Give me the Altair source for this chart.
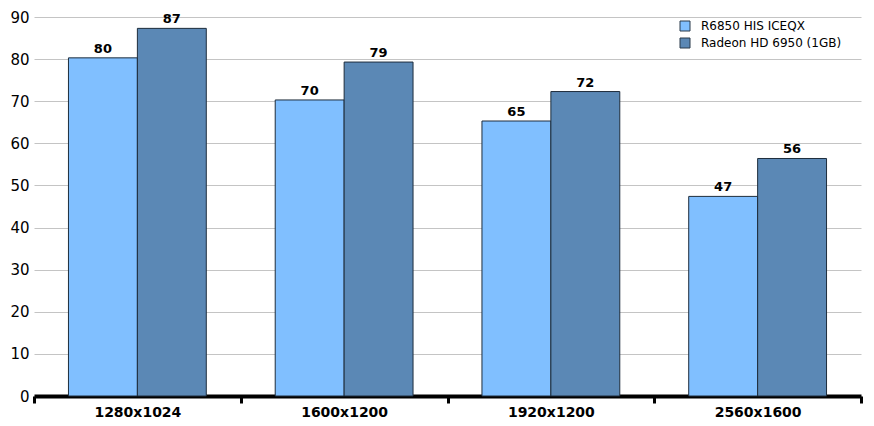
import altair as alt
import pandas as pd

categories = ["1280x1024", "1600x1200", "1920x1200", "2560x1600"]
series = ["R6850 HIS ICEQX", "Radeon HD 6950 (1GB)"]
r6850 = [80.3, 70.3, 65.3, 47.4]
hd6950 = [87.3, 79.3, 72.3, 56.4]
colors = ["#80BFFF", "#5B88B5"]

rows = []
for i, c in enumerate(categories):
    rows.append({"category": c, "series": series[0], "value": r6850[i]})
    rows.append({"category": c, "series": series[1], "value": hd6950[i]})
df = pd.DataFrame(rows)

FONT = "DejaVu Sans"

x_enc = alt.X(
    "category:N",
    sort=categories,
    scale=alt.Scale(paddingInner=0, paddingOuter=0),
    axis=alt.Axis(
        title=None,
        labelAngle=0,
        labelFont=FONT,
        labelFontSize=14,
        labelFontWeight="bold",
        labelColor="black",
        labelPadding=2,
        domain=True,
        domainColor="black",
        domainWidth=4,
        ticks=True,
        tickColor="black",
        tickWidth=3,
        tickSize=7,
        tickBand="extent",
        grid=False,
    ),
)
xoff_enc = alt.XOffset(
    "series:N", sort=series, scale=alt.Scale(paddingInner=0, paddingOuter=0.5)
)
y_enc = alt.Y(
    "value:Q",
    scale=alt.Scale(domain=[0, 90], nice=False),
    axis=alt.Axis(
        title=None,
        values=list(range(0, 100, 10)),
        grid=True,
        gridColor="#c4c4c4",
        gridWidth=1,
        domain=False,
        ticks=False,
        labelFont=FONT,
        labelFontSize=15,
        labelColor="black",
        labelPadding=5,
    ),
)

base = alt.Chart(df)
bars = base.mark_bar(stroke="#1e2d3c", strokeWidth=1).encode(
    x=x_enc,
    xOffset=xoff_enc,
    y=y_enc,
    color=alt.Color(
        "series:N",
        sort=series,
        scale=alt.Scale(domain=series, range=colors),
        legend=alt.Legend(
            title=None,
            orient="none",
            legendX=645,
            legendY=3,
            symbolType="square",
            symbolSize=100,
            symbolStrokeColor="#2a3a4a",
            symbolStrokeWidth=1,
            labelFont=FONT,
            labelFontSize=12,
            labelColor="black",
            rowPadding=3,
            labelOffset=10,
        ),
    ),
)
text = base.mark_text(
    dy=-9, fontWeight="bold", fontSize=13, font=FONT, color="black"
).encode(
    x=x_enc,
    xOffset=xoff_enc,
    y=y_enc,
    text=alt.Text("value:Q", format=".0f"),
)

chart = (
    alt.layer(bars, text)
    .properties(
        width=827,
        height=379,
        autosize=alt.AutoSizeParams(type="none"),
        padding={"left": 26, "top": 9, "right": 5, "bottom": 22},
    )
    .configure_view(stroke=None)
)

chart.save("out.html", embed_options={"renderer": "svg", "actions": False})
